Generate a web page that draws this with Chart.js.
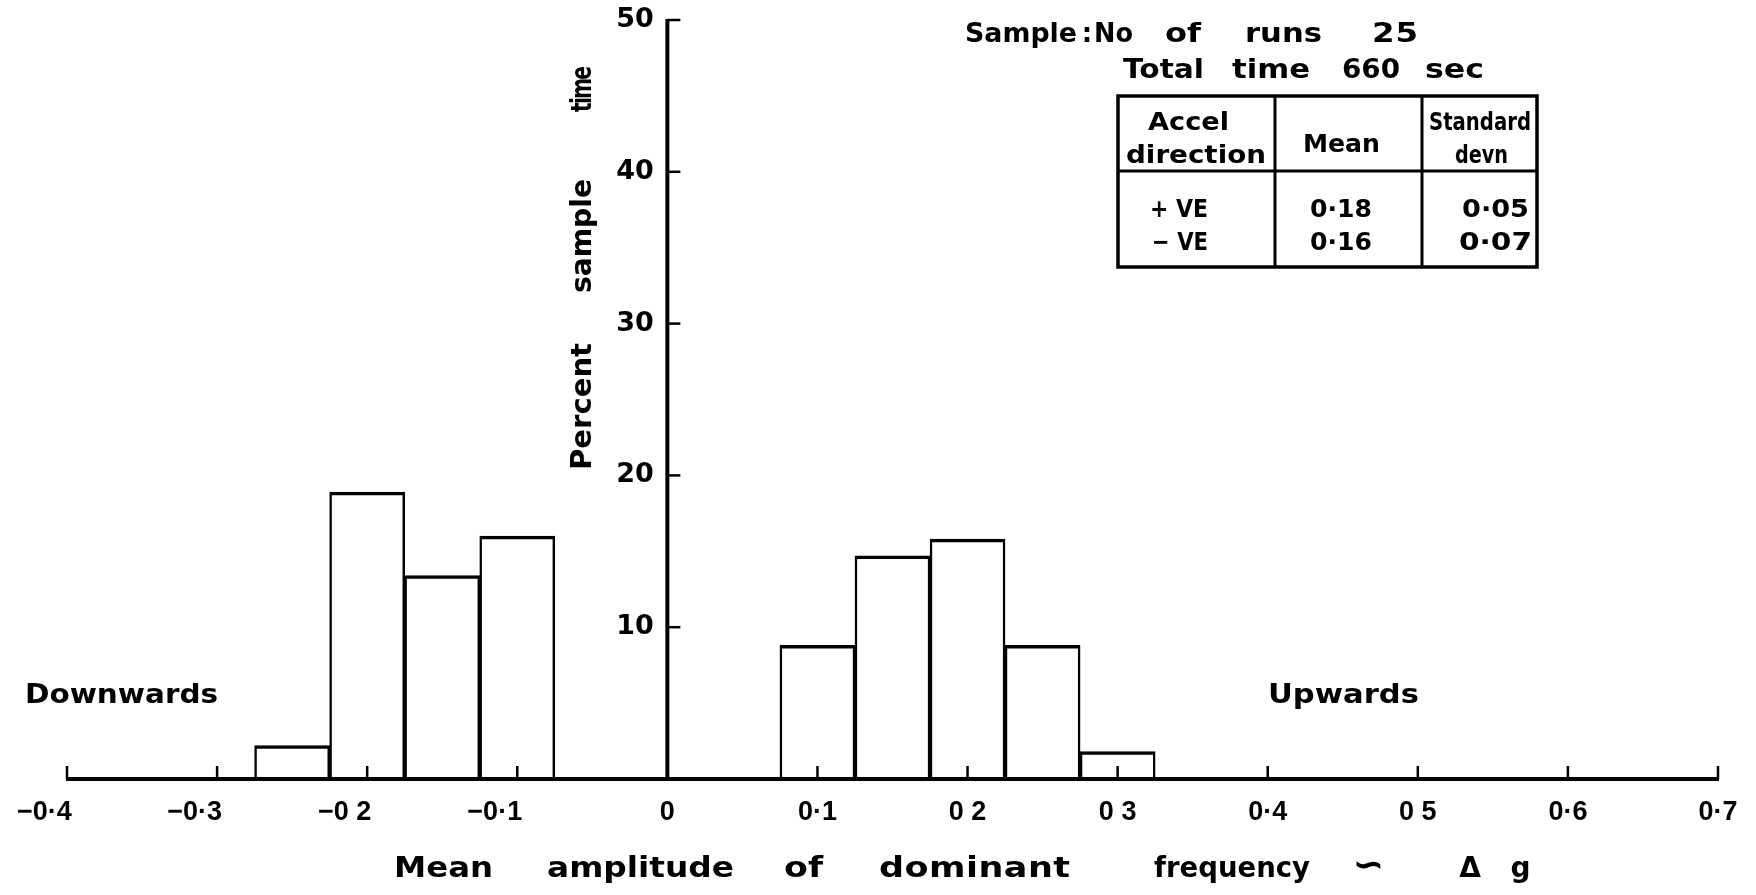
<!DOCTYPE html>
<html>
<head>
<meta charset="utf-8">
<script src="https://cdn.jsdelivr.net/npm/chart.js@4.4.1/dist/chart.umd.min.js"></script>
<style>
  html, body { margin: 0; padding: 0; background: #ffffff; }
  #wrap { position: relative; width: 1756px; height: 895px; }
</style>
</head>
<body>
<div id="wrap"><canvas id="chart"></canvas></div>
<script>
// ---------------- data ----------------
const negBinCentres = [-0.25, -0.20, -0.15, -0.10];
const negPercent    = [2.2, 18.9, 13.4, 16.0];
const posBinCentres = [0.10, 0.15, 0.20, 0.25, 0.30];
const posPercent    = [8.8, 14.7, 15.8, 8.8, 1.8];

const xTickLabels = ['\u22120\u00b74', '\u22120\u00b73', '\u22120 2', '\u22120\u00b71', '0',
                     '0\u00b71', '0 2', '0 3', '0\u00b74', '0 5', '0\u00b76', '0\u00b77'];
const yTickLabels = ['', '10', '20', '30', '40', '50'];

const xTitleWords = ['Mean', 'amplitude', 'of', 'dominant', 'frequency', '\u223d', '\u0394', 'g'];
const yTitleWords = ['Percent', 'sample', 'time'];
const sideLabels  = ['Downwards', 'Upwards'];
const sampleLine1 = ['Sample', ':', 'No', 'of', 'runs', '25'];
const sampleLine2 = ['Total', 'time', '660', 'sec'];
const tableHeader = [['Accel', 'direction'], ['Mean'], ['Standard', 'devn']];
const tableRows   = [['+ VE', '0\u00b718', '0\u00b705'],
                     ['\u2212 VE', '0\u00b716', '0\u00b707']];

// ---------------- build ----------------
const barPoints = negBinCentres.map((c, i) => ({ x: c, y: negPercent[i] }))
  .concat(posBinCentres.map((c, i) => ({ x: c, y: posPercent[i] })));

const FONT = '"DejaVu Sans", "Liberation Sans", sans-serif';
const TICKFONT = '"Liberation Sans", "DejaVu Sans", sans-serif';
Chart.defaults.font.family = FONT;
Chart.defaults.font.weight = 'bold';
Chart.defaults.color = '#000';

// draw a word so that it spans [left, right] on the baseline (lettering is wide)
function fitWord(ctx, text, left, right, base, size) {
  ctx.save();
  ctx.font = 'bold ' + size + 'px ' + FONT;
  ctx.letterSpacing = '0px';
  ctx.textAlign = 'left';
  ctx.textBaseline = 'alphabetic';
  const target = right - left;
  const nat = ctx.measureText(text).width;
  const n = Array.from(text).length;
  if (n <= 1) {
    ctx.textAlign = 'center';
    ctx.fillText(text, (left + right) / 2, base);
    ctx.restore();
    return;
  }
  let k = target / nat;
  k = Math.min(1.25, Math.max(0.72, k));
  const s = (target - nat * k) / (n - 1) / k;
  ctx.translate(left, base);
  ctx.scale(k, 1);
  ctx.letterSpacing = s + 'px';
  ctx.fillText(text, 0, 0);
  ctx.restore();
}

const axesPlugin = {
  id: 'axesAndNotes',
  afterDatasetsDraw(chart) {
    const { ctx, scales: { x, y } } = chart;
    const x0 = x.getPixelForValue(0);
    const y0 = y.getPixelForValue(0);
    ctx.save();
    ctx.strokeStyle = '#000';
    ctx.lineCap = 'butt';
    // horizontal axis
    ctx.lineWidth = 4;
    ctx.beginPath();
    ctx.moveTo(x.getPixelForValue(x.min) - 1, y0);
    ctx.lineTo(x.getPixelForValue(x.max) + 1, y0);
    ctx.stroke();
    ctx.lineWidth = 2.5;
    x.ticks.forEach(t => {
      if (Math.abs(t.value) < 1e-9) return;
      const px = x.getPixelForValue(t.value);
      ctx.beginPath();
      ctx.moveTo(px, y0);
      ctx.lineTo(px, y0 - 13);
      ctx.stroke();
    });
    // vertical axis
    ctx.lineWidth = 4;
    ctx.beginPath();
    ctx.moveTo(x0, y0 + 2);
    ctx.lineTo(x0, y.getPixelForValue(y.max) - 1);
    ctx.stroke();
    ctx.lineWidth = 2.5;
    y.ticks.forEach(t => {
      if (t.value <= 0) return;
      const py = y.getPixelForValue(t.value);
      ctx.beginPath();
      ctx.moveTo(x0, py);
      ctx.lineTo(x0 + 13, py);
      ctx.stroke();
    });
    ctx.restore();
  },
  afterDraw(chart) {
    const { ctx } = chart;
    ctx.save();
    ctx.fillStyle = '#000';
    ctx.strokeStyle = '#000';

    // side labels
    fitWord(ctx, sideLabels[0], 25, 218, 703, 27);
    fitWord(ctx, sideLabels[1], 1268, 1419, 703, 27);

    // x title
    const xSpan = [[394, 493], [547, 734], [784, 823], [879, 1070], [1154, 1310],
                   [1355, 1382], [1456, 1484], [1501, 1540]];
    xTitleWords.forEach((w, i) => {
      const size = (w === '\u223d') ? 38 : 28;
      fitWord(ctx, w, xSpan[i][0], xSpan[i][1], 877, size);
    });

    // y title (rotated, reading upwards)
    const ySpan = [[343, 470], [179, 293], [66, 112]];
    yTitleWords.forEach((w, i) => {
      ctx.save();
      ctx.translate(591, 0);
      ctx.rotate(-Math.PI / 2);
      fitWord(ctx, w, -ySpan[i][1], -ySpan[i][0], 0, 28);
      ctx.restore();
    });

    // sample text
    const s1 = [[965, 1077], [1083, 1091], [1094, 1133], [1165, 1201], [1245, 1322], [1372, 1418]];
    sampleLine1.forEach((w, i) => fitWord(ctx, w, s1[i][0], s1[i][1], 42, 26));
    const s2 = [[1123, 1204], [1232, 1310], [1342, 1400], [1425, 1484]];
    sampleLine2.forEach((w, i) => fitWord(ctx, w, s2[i][0], s2[i][1], 78, 26));

    // table frame
    const L = 1118, R = 1537, T = 96, B = 267, H = 171, C1 = 1275, C2 = 1422;
    ctx.lineWidth = 3.5;
    ctx.strokeRect(L, T, R - L, B - T);
    ctx.lineWidth = 3;
    ctx.beginPath();
    ctx.moveTo(L, H); ctx.lineTo(R, H);
    ctx.moveTo(C1, T); ctx.lineTo(C1, B);
    ctx.moveTo(C2, T); ctx.lineTo(C2, B);
    ctx.stroke();

    fitWord(ctx, tableHeader[0][0], 1148, 1229, 130, 25);
    fitWord(ctx, tableHeader[0][1], 1126, 1266, 163, 25);
    fitWord(ctx, tableHeader[1][0], 1303, 1380, 152, 25);
    fitWord(ctx, tableHeader[2][0], 1429, 1531, 130, 25);
    fitWord(ctx, tableHeader[2][1], 1455, 1508, 163, 25);
    const rowSpan = [[[1150, 1208], [1310, 1372], [1462, 1529]],
                     [[1152, 1208], [1310, 1372], [1459, 1532]]];
    const rowBase = [217, 250];
    tableRows.forEach((row, r) => {
      row.forEach((cell, c) => fitWord(ctx, cell, rowSpan[r][c][0], rowSpan[r][c][1], rowBase[r], 25));
    });
    ctx.restore();
  }
};

new Chart(document.getElementById('chart'), {
  type: 'bar',
  data: {
    datasets: [{
      data: barPoints,
      backgroundColor: '#ffffff',
      borderColor: '#000000',
      borderWidth: { top: 3.5, left: 2.5, right: 2.5, bottom: 0 },
      borderSkipped: 'start',
      barPercentage: 1.0,
      categoryPercentage: 1.0
    }]
  },
  options: {
    responsive: true,
    maintainAspectRatio: false,
    animation: false,
    layout: { padding: { left: 67, right: 38, top: 20, bottom: 116 } },
    plugins: { legend: { display: false }, tooltip: { enabled: false } },
    scales: {
      x: {
        type: 'linear',
        position: { y: 0 },
        min: -0.4,
        max: 0.7,
        offset: false,
        grid: { display: false, drawTicks: false, offset: false },
        border: { display: false },
        ticks: {
          stepSize: 0.1,
          autoSkip: false,
          maxRotation: 0,
          padding: 17,
          font: { family: TICKFONT, size: 27, weight: 'bold' },
          color: '#000',
          callback: (v) => {
            const lab = xTickLabels[Math.round(v * 10) + 4];
            return lab.charAt(0) === '\u2212' ? lab + '\u2007\u2007\u2007' : lab;
          }
        }
      },
      y: {
        type: 'linear',
        position: { x: 0 },
        min: 0,
        max: 50,
        grid: { display: false, drawTicks: false },
        border: { display: false },
        ticks: {
          stepSize: 10,
          autoSkip: false,
          font: { size: 27, weight: 'bold' },
          color: '#000',
          callback: (v) => {
            const lab = yTickLabels[Math.round(v / 10)];
            return lab === '' ? '' : lab + '\u2002';
          }
        }
      }
    }
  },
  plugins: [axesPlugin]
});
</script>
</body>
</html>
